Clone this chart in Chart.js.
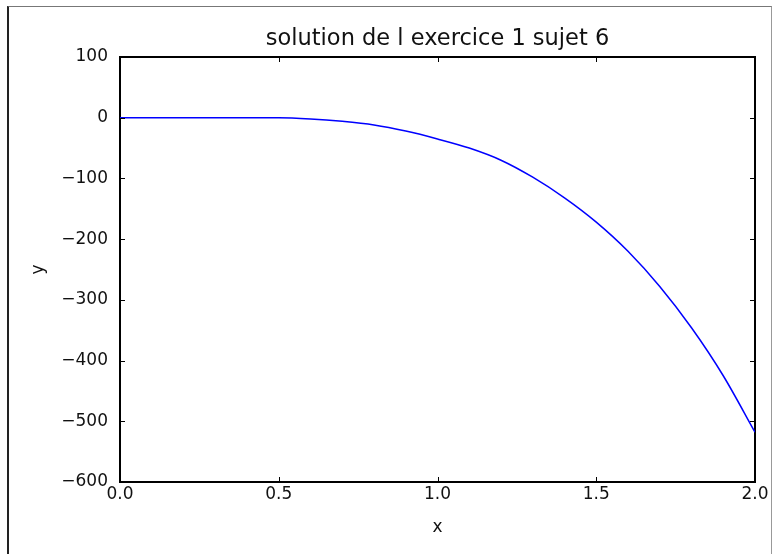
<!DOCTYPE html>
<html>
<head>
<meta charset="utf-8">
<script src="https://cdn.jsdelivr.net/npm/chart.js@4/dist/chart.umd.min.js"></script>
<style>
  html, body { margin: 0; padding: 0; background: #fff; }
  #wrap { position: relative; width: 776px; height: 554px; }
  #frame { position: absolute; left: 7px; top: 6px; width: 762px; height: 560px;
           border-left: 2px solid #222; border-top: 1px solid #777; border-right: 1px solid #999; }
  canvas { position: absolute; left: 0; top: 0; }
</style>
</head>
<body>
<div id="wrap">
  <div id="frame"></div>
  <canvas id="c" width="776" height="554"></canvas>
</div>
<script>
const titleText = 'solution de l exercice 1 sujet 6';
const xValues = [0.0, 0.1, 0.2, 0.3, 0.4, 0.5, 0.6, 0.7, 0.8, 0.9, 1.0,
                 1.1, 1.2, 1.3, 1.4, 1.5, 1.6, 1.7, 1.8, 1.9, 2.0];
const yValues = [0, 0, 0, 0, 0, 0, -2, -6, -12, -22, -35,
                 -50, -70, -98, -132, -172, -220, -278, -346, -425, -518];
const xTicks = [0.0, 0.5, 1.0, 1.5, 2.0];
const yTicks = [100, 0, -100, -200, -300, -400, -500, -600];

const font = 'DejaVu Sans';
const minus = v => String(v).replace('-', '\u2212');

// matplotlib style: tick marks pointing into the plot on all four sides
const innerTicks = {
  id: 'innerTicks',
  afterDraw(chart) {
    const { ctx, chartArea: a, scales: { x, y } } = chart;
    ctx.save();
    ctx.strokeStyle = '#000';
    ctx.lineWidth = 1;
    ctx.beginPath();
    xTicks.forEach(v => {
      const px = Math.round(x.getPixelForValue(v)) + 0.5;
      ctx.moveTo(px, a.bottom); ctx.lineTo(px, a.bottom - 5);
      ctx.moveTo(px, a.top); ctx.lineTo(px, a.top + 5);
    });
    yTicks.forEach(v => {
      const py = Math.round(y.getPixelForValue(v)) + 0.5;
      ctx.moveTo(a.left, py); ctx.lineTo(a.left + 5, py);
      ctx.moveTo(a.right, py); ctx.lineTo(a.right - 5, py);
    });
    ctx.stroke();
    ctx.restore();
  }
};

new Chart(document.getElementById('c'), {
  type: 'line',
  data: {
    datasets: [{
      data: xValues.map((v, i) => ({ x: v, y: yValues[i] })),
      borderColor: '#0000ff',
      borderWidth: 1.5,
      pointRadius: 0,
      fill: false,
      cubicInterpolationMode: 'monotone'
    }]
  },
  options: {
    responsive: false,
    animation: false,
    layout: { padding: 0 },
    plugins: { legend: { display: false }, tooltip: { enabled: false }, title: { display: false } },
    scales: {
      x: {
        type: 'linear', position: 'bottom', min: 0, max: 2,
        afterBuildTicks: s => { s.ticks = xTicks.map(v => ({ value: v })); },
        afterFit: s => { s.height = 72; },
        grid: { display: false, drawTicks: false },
        border: { display: true, color: '#000', width: 2 },
        ticks: { color: '#111', font: { family: font, size: 17 }, padding: 2,
                 maxRotation: 0, callback: v => v.toFixed(1) },
        title: { display: true, text: 'x', color: '#111', font: { family: font, size: 17 },
                 padding: { top: 0, bottom: 16 } }
      },
      x2: {
        type: 'linear', position: 'top', min: 0, max: 2,
        afterFit: s => { s.height = 57; },
        grid: { display: false, drawTicks: false },
        border: { display: true, color: '#000', width: 2 },
        ticks: { display: false },
        title: { display: true, text: titleText, color: '#111',
                 font: { family: font, size: 22.5 }, padding: { top: 26, bottom: 0 } }
      },
      y: {
        type: 'linear', position: 'left', min: -600, max: 100,
        afterBuildTicks: s => { s.ticks = yTicks.map(v => ({ value: v })); },
        afterFit: s => { s.width = 120; },
        grid: { display: false, drawTicks: false },
        border: { display: true, color: '#000', width: 2 },
        ticks: { color: '#111', font: { family: font, size: 17 }, padding: 12,
                 callback: v => minus(v) },
        title: { display: true, text: 'y', color: '#111', font: { family: font, size: 17 },
                 padding: { top: 28, bottom: 0 } }
      },
      y2: {
        type: 'linear', position: 'right', min: -600, max: 100,
        afterFit: s => { s.width = 21; },
        grid: { display: false, drawTicks: false },
        border: { display: true, color: '#000', width: 2 },
        ticks: { display: false }
      }
    }
  },
  plugins: [innerTicks]
});
</script>
</body>
</html>
